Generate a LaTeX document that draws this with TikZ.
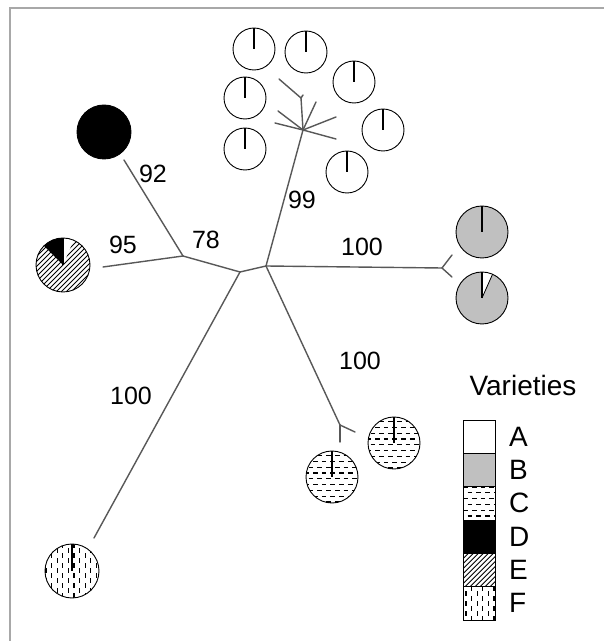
\documentclass[tikz,border=0pt]{standalone}
\usepackage{fontspec}
\setmainfont{Liberation Sans}
\usetikzlibrary{calc}
\definecolor{branchgray}{HTML}{585858}
\definecolor{pieB}{HTML}{C0C0C0}
\definecolor{framegray}{HTML}{A8A8A8}
% horizontal dashes (variety C): x start, y start (bottom), row count
\newcommand\hdashes[3]{%
  \foreach \i in {0,...,#3}{%
    \draw[black, line width=1.1pt, dash pattern=on 4.7pt off 4pt]
      ({#1-4.35*mod(\i,2)},{#2+\i*5.8}) -- ++(70,0);
  }}
% vertical dashes (variety F): x start (left), y start, column count
\newcommand\vdashes[3]{%
  \foreach \i in {0,...,#3}{%
    \draw[black, line width=1.1pt, dash pattern=on 4.5pt off 5.5pt]
      ({#1+\i*5.6},{#2-5*mod(\i,2)}) -- ++(0,70);
  }}
% diagonal hatch (variety E): x start, y bottom, line count
\newcommand\hatches[3]{%
  \foreach \i in {0,...,#3}{%
    \draw[black, line width=0.9pt] ({#1+\i*5},#2) -- ++(70,70);
  }}
\begin{document}
\begin{tikzpicture}[x=1pt,y=1pt,
  branch/.style={draw=branchgray, line width=1.4pt, line cap=round},
  pieedge/.style={draw=black, line width=0.9pt},
  radial/.style={draw=black, line width=1.4pt},
  lbl/.style={inner sep=0pt, font=\fontsize{25}{30}\selectfont},
  leg/.style={inner sep=0pt, font=\fontsize{28}{34}\selectfont},
  cellline/.style={draw=black, line width=0.9pt}]
\useasboundingbox (0,0) rectangle (604,641);
\fill[white] (0,0) rectangle (604,641);
% frame
\coordinate (frB) at (10,0);
\coordinate (frC) at (10,633);
\coordinate (frR) at (604,633);
\draw[framegray, line width=1.6pt] (frB) -- (frC) -- (frR);

% ---------- tree ----------
\coordinate (J1) at (266,375);
\coordinate (J2) at (240,369);
\coordinate (J3) at (183,385);
\coordinate (tD) at (124,481);
\coordinate (tE) at (103,374);
\coordinate (tF) at (94,103);
\coordinate (hub) at (303,511);
\coordinate (a1) at (301,543);
\coordinate (a1a) at (279,562);
\coordinate (a1b) at (303,546);
\coordinate (a2) at (316,539);
\coordinate (a3) at (336,524);
\coordinate (a4) at (336,502);
\coordinate (a5) at (278,530);
\coordinate (a6) at (275,518);
\coordinate (fB) at (442,373);
\coordinate (tB1) at (452,386);
\coordinate (tB2) at (452,364);
\coordinate (fC) at (340,216);
\coordinate (tC1) at (340,199);
\coordinate (tC2) at (355,209);

\draw[branch] (J1) -- (J2);
\draw[branch] (J2) -- (J3);
\draw[branch] (J3) -- (tD);
\draw[branch] (J3) -- (tE);
\draw[branch] (J2) -- (tF);
\draw[branch] (J1) -- (hub);
\draw[branch] (hub) -- (a1);
\draw[branch] (a1) -- (a1a);
\draw[branch] (a1) -- (a1b);
\draw[branch] (hub) -- (a2);
\draw[branch] (hub) -- (a3);
\draw[branch] (hub) -- (a4);
\draw[branch] (hub) -- (a5);
\draw[branch] (hub) -- (a6);
\draw[branch] (J1) -- (fB);
\draw[branch] (fB) -- (tB1);
\draw[branch] (fB) -- (tB2);
\draw[branch] (J1) -- (fC);
\draw[branch] (fC) -- (tC1);
\draw[branch] (fC) -- (tC2);

% ---------- labels ----------
\node[lbl] (n92) at (153,467) {92};
\node[lbl] (n95) at (123,396) {95};
\node[lbl] (n78) at (206,401) {78};
\node[lbl] (n99) at (302,441) {99};
\node[lbl] (n100b) at (362,394) {100};
\node[lbl] (n100c) at (360,280) {100};
\node[lbl] (n100f) at (131,245) {100};

% ---------- pies: variety A ----------
\coordinate (pA1) at (254,592);
\coordinate (pA2) at (306,589);
\coordinate (pA3) at (354,559);
\coordinate (pA4) at (245,543);
\coordinate (pA5) at (383,511);
\coordinate (pA6) at (245,492);
\coordinate (pA7) at (347,469);
\foreach \p in {pA1,pA2,pA3,pA4,pA5,pA6,pA7}{
  \draw[pieedge, fill=white] (\p) circle (21);
  \draw[radial] (\p) -- ++(0,21);
}

% ---------- pie D ----------
\coordinate (pD) at (104,509);
\draw[pieedge, fill=black] (pD) circle (27);

% ---------- pie E ----------
\coordinate (pE) at (63,376);
\begin{scope}
  \clip (pE) circle (27);
  \fill[white] (pE) circle (27);
  \hatches{-24}{349}{23}
  \fill[black] (pE) -- ++(90:27) arc[start angle=90,end angle=135,radius=27] -- cycle;
  \fill[white] (pE) -- ++(67:27) arc[start angle=67,end angle=90,radius=27] -- cycle;
\end{scope}
\draw[radial] (pE) -- ++(0,27);
\draw[pieedge] (pE) circle (27);

% ---------- pies B ----------
\coordinate (pB1) at (482,409);
\coordinate (pB2) at (482,343);
\draw[pieedge, fill=pieB] (pB1) circle (26);
\draw[radial] (pB1) -- ++(0,26);
\fill[white] (pB2) circle (26);
\fill[pieB] (pB2) -- ++(66:26) arc[start angle=66,end angle=-270,radius=26] -- cycle;
\draw[black, line width=0.8pt] (pB2) -- ++(66:26);
\draw[radial, line width=2pt] (pB2) -- ++(0,26);
\draw[pieedge] (pB2) circle (26);

% ---------- pies C ----------
\coordinate (pC1) at (332,164);
\coordinate (pC2) at (394,198);
\begin{scope}
  \clip (pC1) circle (26);
  \fill[white] (pC1) circle (26);
  \hdashes{300}{139}{10}
\end{scope}
\draw[radial] (pC1) -- ++(0,26);
\draw[pieedge] (pC1) circle (26);
\begin{scope}
  \clip (pC2) circle (26);
  \fill[white] (pC2) circle (26);
  \hdashes{362}{173}{10}
\end{scope}
\draw[radial] (pC2) -- ++(0,26);
\draw[pieedge] (pC2) circle (26);

% ---------- pie F ----------
\coordinate (pF) at (72,70);
\begin{scope}
  \clip (pF) circle (27);
  \fill[white] (pF) circle (27);
  \vdashes{46}{38}{10}
\end{scope}
\draw[radial] (pF) -- ++(0,27);
\draw[pieedge] (pF) circle (27);

% ---------- legend ----------
\node[leg] (legtitle) at (523,256) {Varieties};
\fill[white] (463,187.7) rectangle (495,221);
\fill[pieB] (463,154.3) rectangle (495,187.7);
\begin{scope}
  \clip (463,121) rectangle (495,154.3);
  \hdashes{459}{125}{6}
\end{scope}
\fill[black] (463,87.7) rectangle (495,121);
\begin{scope}
  \clip (463,54.3) rectangle (495,87.7);
  \hatches{425}{54.3}{15}
\end{scope}
\begin{scope}
  \clip (463,21) rectangle (495,54.3);
  \vdashes{466}{15}{6}
\end{scope}
\foreach \yy in {187.7,154.3,121,87.7,54.3}{
  \draw[cellline] (463,\yy) -- (495,\yy);
}
\draw[cellline] (463,21) rectangle (495,221);
\node[leg, anchor=west] (lA) at (509,204.3) {A};
\node[leg, anchor=west] (lB) at (509,171) {B};
\node[leg, anchor=west] (lC) at (509,137.7) {C};
\node[leg, anchor=west] (lD) at (509,104.3) {D};
\node[leg, anchor=west] (lE) at (509,71) {E};
\node[leg, anchor=west] (lF) at (509,37.7) {F};
\end{tikzpicture}
\end{document}
